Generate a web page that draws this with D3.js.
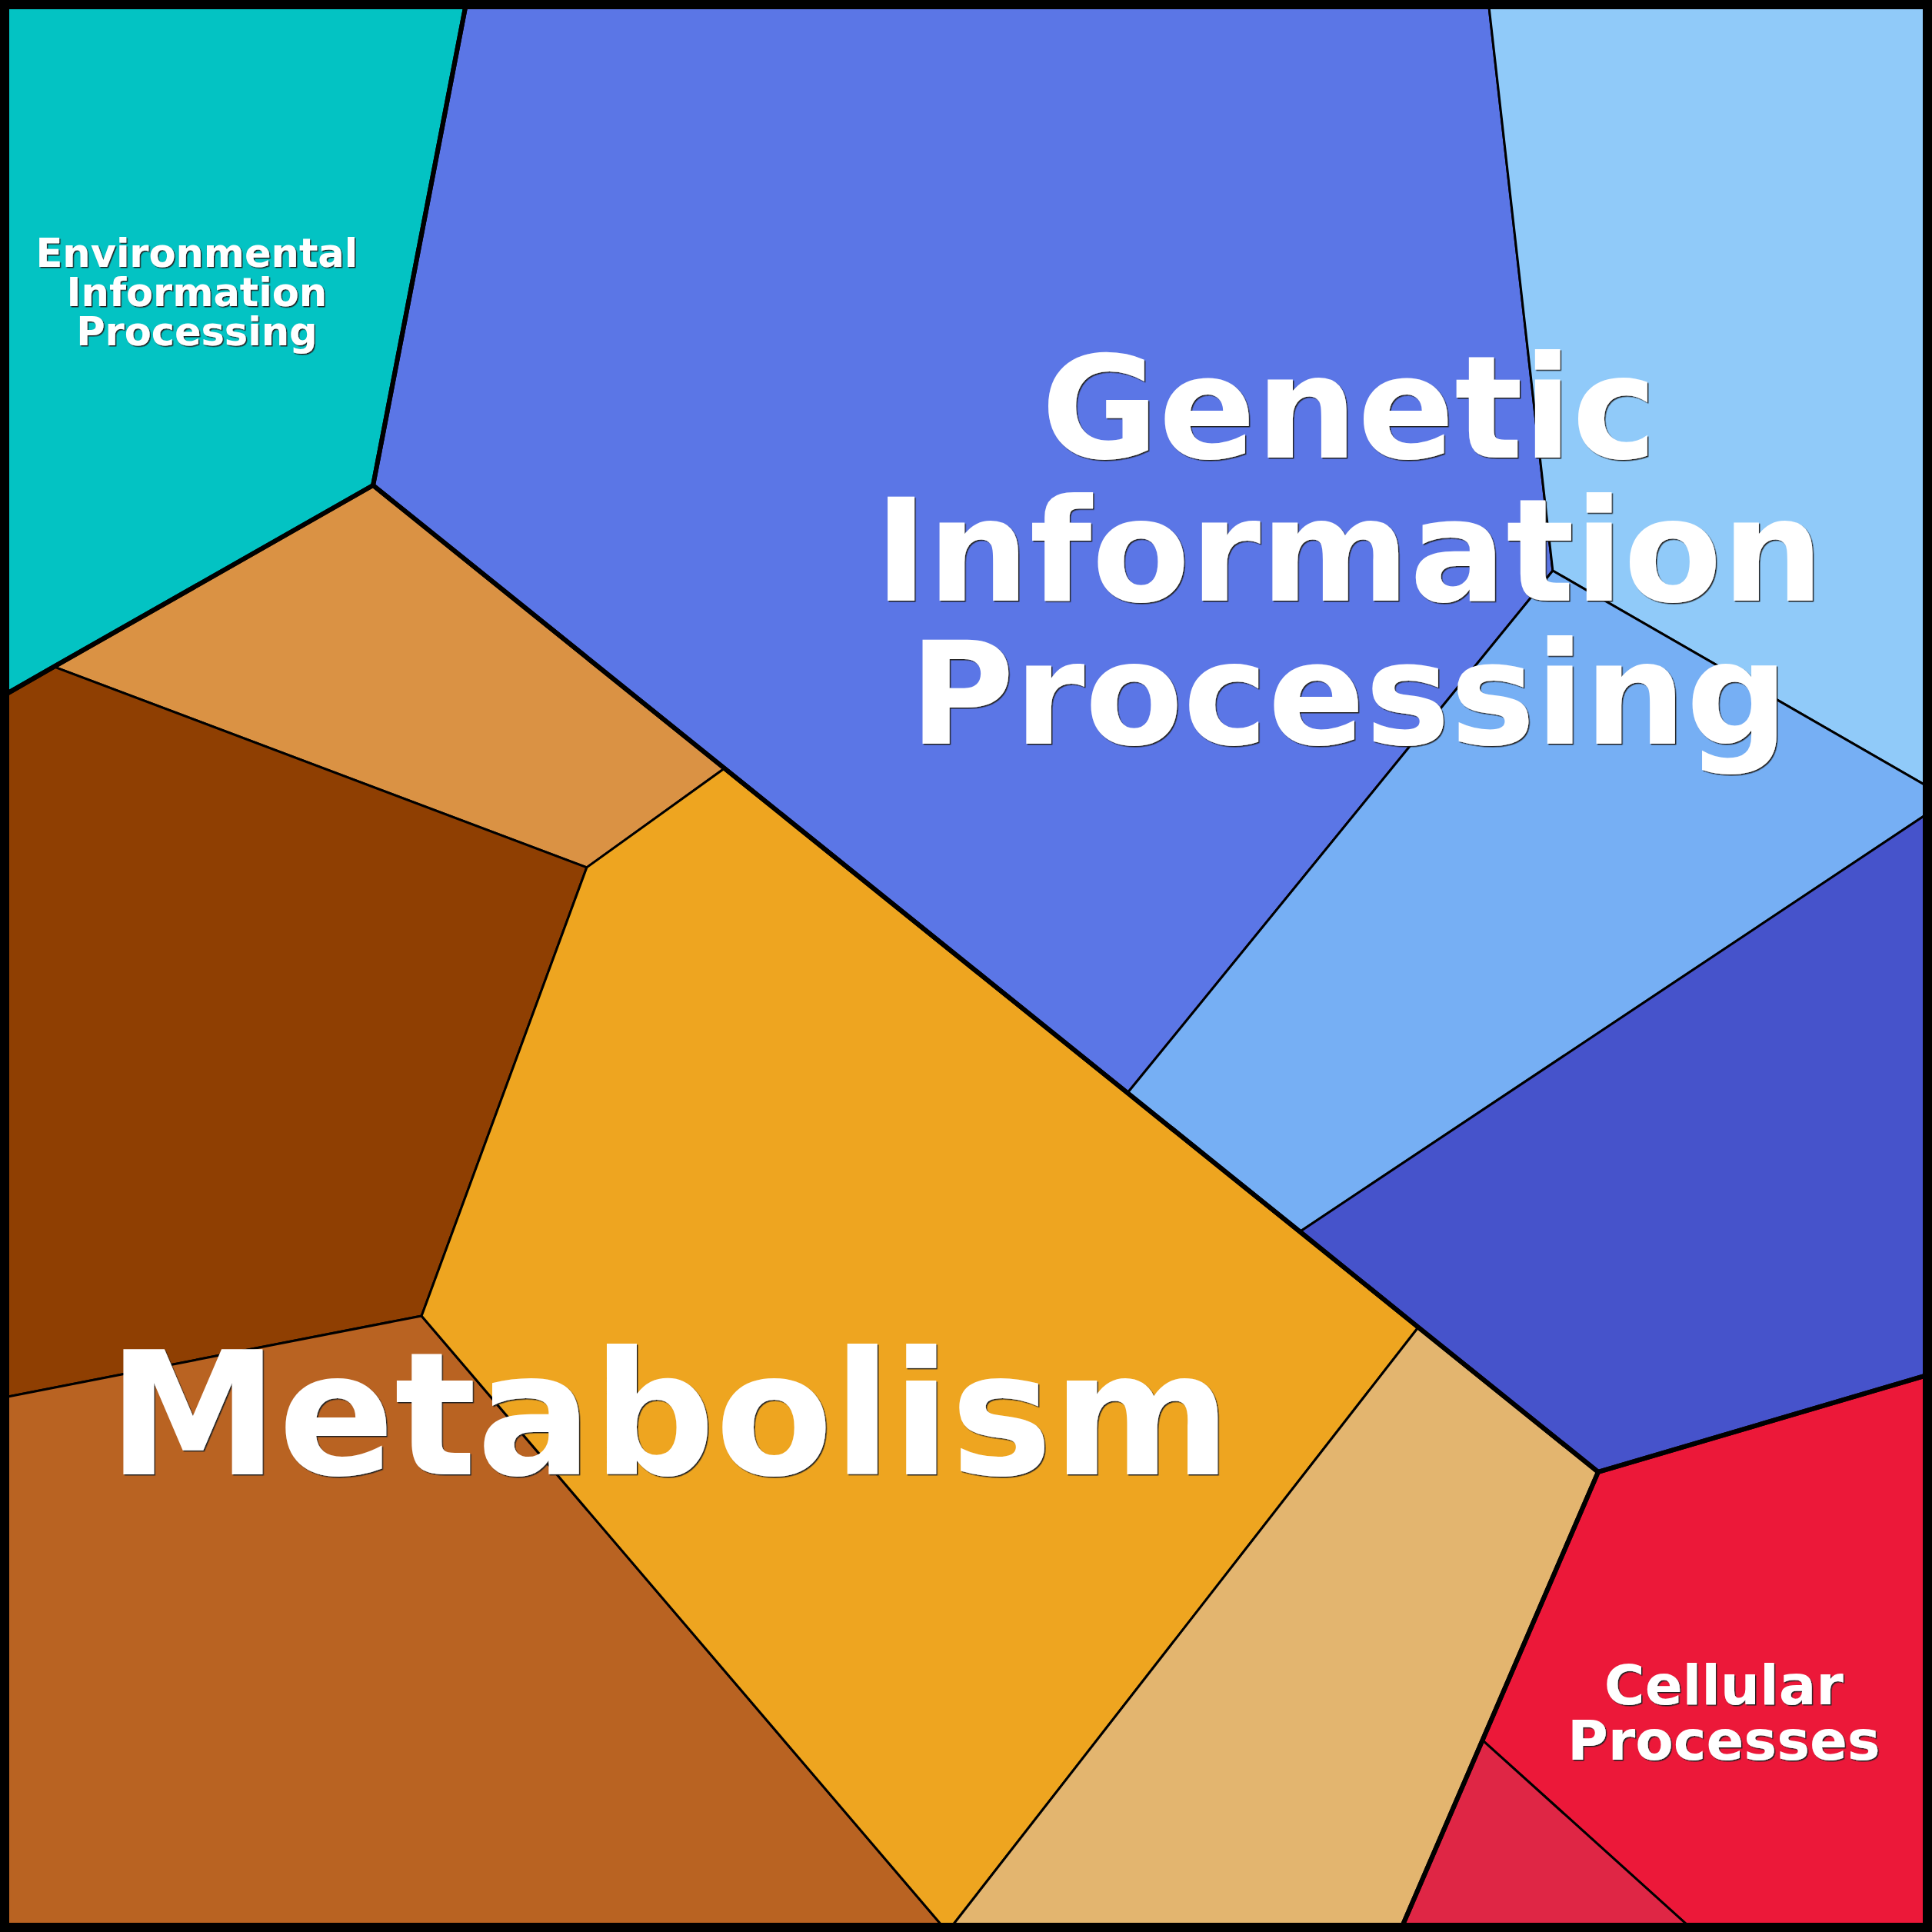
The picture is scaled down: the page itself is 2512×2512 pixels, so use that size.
<!DOCTYPE html>
<html>
<head>
<meta charset="utf-8">
<script src="https://cdn.jsdelivr.net/npm/d3@7"></script>
<style>
  html, body { margin: 0; padding: 0; background: #fff; }
  svg { display: block; }
</style>
</head>
<body>
<script>
// ---- DATA (vertex coordinates in a 0..1000 data space) ----
const vertexIds = ["TL","A","D","TR","B","C","E","F","G","H","I","J","K","L","M","N","O","P","Q","R","S","T","U","BL","BR"];
const vertexX   = [0, 241.6, 770.3, 1000, 193.1, 0, 803.7, 1000, 1000, 583.6, 672.8, 734.1, 827.2, 1000, 724.5, 767.1, 877.4, 490.4, 218.2, 0, 303.7, 375.0, 27.9, 0, 1000];
const vertexY   = [0, 0, 0, 0, 251.2, 361.1, 295.4, 408.4, 419.6, 565.7, 637.5, 687.0, 761.9, 711.0, 1000, 900.5, 1000, 1000, 681.1, 723.7, 449.0, 397.7, 345.1, 1000, 1000];

const groupNames  = ["Environmental Information Processing", "Genetic Information Processing", "Metabolism", "Cellular Processes"];
const groupLines  = [["Environmental","Information","Processing"], ["Genetic","Information","Processing"], ["Metabolism"], ["Cellular","Processes"]];
const groupFontPx = [51, 186, 223, 72];
const groupOutlines = [
  ["TL","A","B","U","C"],
  ["A","TR","L","K","J","I","H","T","B"],
  ["B","T","H","I","J","K","M","BL","R","C","U"],
  ["K","L","BR","M"]
];

const cellGroup  = [0, 1, 1, 1, 1, 2, 2, 2, 2, 2, 3, 3];
const cellColors = ["#03c3c3", "#5b76e6", "#90caf9", "#76aff4", "#4653cb", "#da9244", "#8f3f02", "#b96322", "#eea520", "#e3b56f", "#ec1839", "#df2645"];
const cellPolys  = [
  ["TL","A","B","U","C"],
  ["A","D","E","H","T","B"],
  ["D","TR","F","E"],
  ["E","F","G","I","H"],
  ["G","L","K","J","I"],
  ["B","T","S","U"],
  ["U","S","Q","R","C"],
  ["R","Q","P","BL"],
  ["T","H","I","J","P","Q","S"],
  ["J","K","M","P"],
  ["K","L","BR","O","N"],
  ["N","O","M"]
];
// Label anchor nudges (data units) relative to group centroid
const labelDx = [0, 29.5, 10.4, 2];
const labelDy = [3.2, -20, 29.5, 7.2];

// ---- CHART ----
const W = 2512, H = 2512;
const x = d3.scaleLinear().domain([0, 1000]).range([0, W]);
const y = d3.scaleLinear().domain([0, 1000]).range([0, H]);
const vIndex = new Map(vertexIds.map((id, i) => [id, i]));
const pt = id => { const i = vIndex.get(id); return [x(vertexX[i]), y(vertexY[i])]; };
const line = d3.line().curve(d3.curveLinearClosed);

const svg = d3.select("body").append("svg").attr("width", W).attr("height", H);

const defs = svg.append("defs");
defs.append("filter").attr("id", "shadow")
  .attr("x", "-5%").attr("y", "-5%").attr("width", "110%").attr("height", "110%")
  .append("feDropShadow")
  .attr("dx", 1.5).attr("dy", 1.5).attr("stdDeviation", 0.4)
  .attr("flood-color", "#222").attr("flood-opacity", 1);

svg.append("g").selectAll("path")
  .data(cellPolys)
  .join("path")
  .attr("d", d => line(d.map(pt)))
  .attr("fill", (d, i) => cellColors[i])
  .attr("stroke", "#000")
  .attr("stroke-width", 3)
  .attr("stroke-linejoin", "round");

svg.append("g").selectAll("path")
  .data(groupOutlines)
  .join("path")
  .attr("d", d => line(d.map(pt)))
  .attr("fill", "none")
  .attr("stroke", "#000")
  .attr("stroke-width", 6)
  .attr("stroke-linejoin", "round");

svg.append("rect")
  .attr("x", 6).attr("y", 6).attr("width", W - 12).attr("height", H - 12)
  .attr("fill", "none").attr("stroke", "#000").attr("stroke-width", 12);

const labels = svg.append("g")
  .attr("font-family", "'DejaVu Sans', sans-serif")
  .attr("font-weight", "bold")
  .attr("text-anchor", "middle");

groupOutlines.forEach((poly, gi) => {
  const c = d3.polygonCentroid(poly.map(pt));
  const fs = groupFontPx[gi];
  const lines = groupLines[gi];
  const n = lines.length;
  const cx = c[0] + x(labelDx[gi]);
  const cy = c[1] + y(labelDy[gi]);
  const t = labels.append("text")
    .attr("font-size", fs)
    .attr("fill", "#fff")
    .attr("filter", "url(#shadow)");
  lines.forEach((ln, li) => {
    t.append("tspan")
      .attr("x", cx)
      .attr("y", cy + (li - (n - 1) / 2) * fs * 1.0)
      .attr("dy", "0.36em")
      .text(ln);
  });
});
</script>
</body>
</html>
